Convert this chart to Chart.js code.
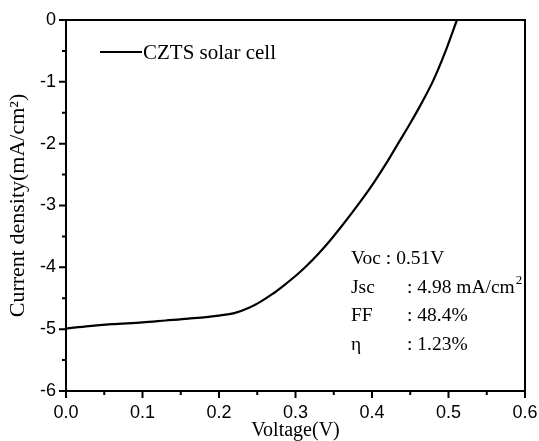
<!DOCTYPE html>
<html>
<head>
<meta charset="utf-8">
<script src="https://cdn.jsdelivr.net/npm/chart.js@4.4.1/dist/chart.umd.min.js"></script>
<style>
  html, body { margin: 0; padding: 0; background: #fff; }
  #wrap { width: 539px; height: 441px; }
</style>
</head>
<body>
<div id="wrap"><canvas id="chartJV" width="539" height="441"></canvas></div>
<script>
// J-V curve of the CZTS cell
const voltage = [0.000, 0.030, 0.060, 0.100, 0.130, 0.160, 0.200, 0.220, 0.240, 0.255, 0.270,
                 0.285, 0.300, 0.315, 0.330, 0.345, 0.360, 0.375, 0.390, 0.405, 0.420, 0.435,
                 0.450, 0.465, 0.480, 0.495, 0.511];
const currentDensity = [-4.99, -4.95, -4.92, -4.89, -4.86, -4.83, -4.78, -4.74, -4.65, -4.55, -4.43,
                        -4.29, -4.14, -3.97, -3.78, -3.57, -3.34, -3.10, -2.85, -2.58, -2.29, -1.98,
                        -1.67, -1.34, -0.98, -0.54, 0.00];

const xTicks = [0.0, 0.1, 0.2, 0.3, 0.4, 0.5, 0.6];
const yTicks = [0, -1, -2, -3, -4, -5, -6];

const statNames = ['Voc', 'Jsc', 'FF', 'η'];
const statValues = ['0.51V', '4.98 mA/cm', '48.4%', '1.23%'];
const statSup = ['', '2', '', ''];

const SERIF = '"Liberation Serif", "Times New Roman", serif';
const SANS = '"Liberation Sans", Arial, sans-serif';

// box frame, outward major/minor ticks, legend and the parameter block
const framePlugin = {
  id: 'frame',
  afterDraw(chart) {
    const { ctx, chartArea: a, scales: { x, y } } = chart;
    ctx.save();
    ctx.strokeStyle = '#000';
    ctx.lineWidth = 2;
    ctx.strokeRect(a.left, a.top, a.right - a.left, a.bottom - a.top);

    ctx.beginPath();
    xTicks.forEach((v, i) => {
      const px = x.getPixelForValue(v);
      ctx.moveTo(px, a.bottom); ctx.lineTo(px, a.bottom + 7);
      if (i < xTicks.length - 1) {
        const mx = x.getPixelForValue((v + xTicks[i + 1]) / 2);
        ctx.moveTo(mx, a.bottom); ctx.lineTo(mx, a.bottom + 4);
      }
    });
    yTicks.forEach((v, i) => {
      const py = y.getPixelForValue(v);
      ctx.moveTo(a.left, py); ctx.lineTo(a.left - 7, py);
      if (i < yTicks.length - 1) {
        const my = y.getPixelForValue((v + yTicks[i + 1]) / 2);
        ctx.moveTo(a.left, my); ctx.lineTo(a.left - 4, my);
      }
    });
    ctx.stroke();

    // legend
    const ds = chart.data.datasets[0];
    const lx = a.left + 34, ly = a.top + 32;
    ctx.lineWidth = ds.borderWidth;
    ctx.beginPath();
    ctx.moveTo(lx, ly); ctx.lineTo(lx + 42, ly);
    ctx.stroke();
    ctx.fillStyle = '#000';
    ctx.font = '21px ' + SERIF;
    ctx.textBaseline = 'alphabetic';
    ctx.textAlign = 'left';
    ctx.fillText(ds.label, lx + 43, ly + 7);

    // cell parameters
    const tx = a.left + 285, cx = a.left + 341;
    statNames.forEach((name, i) => {
      const by = a.top + 244 + i * 28.5;
      ctx.font = '19.5px ' + SERIF;
      let text = ': ' + statValues[i], sx = cx;
      if (i === 0) {
        text = name + ' : ' + statValues[i];
        sx = tx;
      } else {
        ctx.fillText(name, tx, by);
      }
      ctx.fillText(text, sx, by);
      if (statSup[i]) {
        const w = ctx.measureText(text).width;
        ctx.font = '13px ' + SERIF;
        ctx.fillText(statSup[i], sx + w + 1, by - 9);
      }
    });
    ctx.restore();
  }
};

new Chart(document.getElementById('chartJV'), {
  type: 'scatter',
  data: {
    datasets: [{
      label: 'CZTS solar cell',
      data: voltage.map((v, i) => ({ x: v, y: currentDensity[i] })),
      showLine: true,
      borderColor: '#000',
      borderWidth: 2.2,
      pointRadius: 0,
      cubicInterpolationMode: 'monotone'
    }]
  },
  options: {
    responsive: false,
    animation: false,
    devicePixelRatio: 1,
    layout: { padding: { top: 20, right: 14, left: 0, bottom: 0 } },
    plugins: { legend: { display: false }, tooltip: { enabled: false } },
    scales: {
      x: {
        type: 'linear', min: 0, max: 0.6,
        afterBuildTicks: s => { s.ticks = xTicks.map(v => ({ value: v })); },
        afterFit: s => { s.height = 50; s.paddingLeft = 0; s.paddingRight = 0; },
        grid: { display: false },
        border: { display: false },
        ticks: {
          autoSkip: false, maxRotation: 0, padding: 3, color: '#000',
          font: { family: SANS, size: 18 },
          callback: v => Number(v).toFixed(1)
        },
        title: {
          display: true, text: 'Voltage(V)', color: '#000',
          font: { family: SERIF, size: 20, lineHeight: 1 },
          padding: { top: 0, bottom: 0 }
        }
      },
      y: {
        type: 'linear', min: -6, max: 0,
        afterBuildTicks: s => { s.ticks = yTicks.map(v => ({ value: v })); },
        afterFit: s => { s.width = 66; },
        grid: { display: false },
        border: { display: false },
        ticks: {
          autoSkip: false, padding: 2, color: '#000',
          font: { family: SANS, size: 18 },
          callback: v => String(v)
        },
        title: {
          display: true, text: 'Current density(mA/cm²)', color: '#000',
          font: { family: SERIF, size: 22, lineHeight: 1.2 },
          padding: { top: 5, bottom: 0 }
        }
      }
    }
  },
  plugins: [framePlugin]
});
</script>
</body>
</html>
